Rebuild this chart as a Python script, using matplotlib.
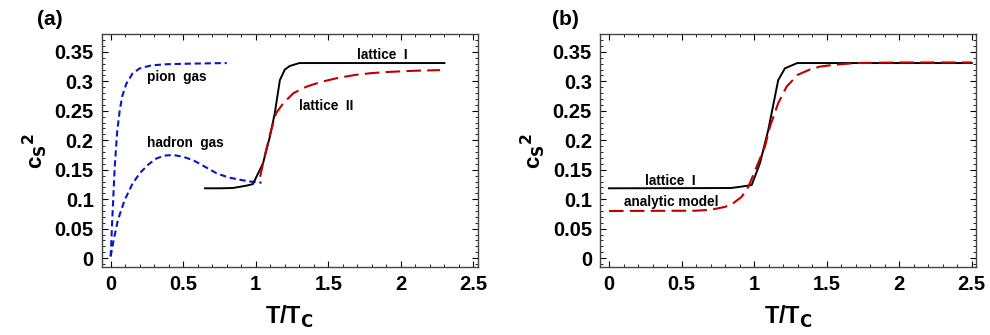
import numpy as np
import matplotlib.pyplot as plt
from matplotlib.ticker import MultipleLocator

plt.rcParams['font.family'] = ['Liberation Sans', 'DejaVu Sans']
plt.rcParams['font.weight'] = 'bold'

# Datos
pion_T = [0.0, 0.01, 0.028, 0.045, 0.062, 0.08, 0.108, 0.15, 0.2, 0.28, 0.384, 0.55, 0.8]
pion_cs2 = [0.003, 0.06, 0.155, 0.215, 0.25, 0.275, 0.296, 0.313, 0.322, 0.327, 0.329, 0.330, 0.331]

hadron_T = [0.0, 0.02, 0.05, 0.097, 0.15, 0.2, 0.26, 0.315, 0.37, 0.43, 0.5, 0.57, 0.65, 0.73, 0.81, 0.89, 0.96, 1.04]
hadron_cs2 = [0.003, 0.03, 0.065, 0.099, 0.126, 0.144, 0.159, 0.169, 0.174, 0.175, 0.172, 0.166, 0.155, 0.144, 0.137, 0.133, 0.130, 0.128]

lat1_T = [0.65, 0.75, 0.84, 0.89, 0.935, 0.98, 1.05, 1.097, 1.131, 1.166, 1.20, 1.234, 1.30, 2.30]
lat1_cs2 = [0.1185, 0.1185, 0.119, 0.121, 0.123, 0.1256, 0.161, 0.206, 0.246, 0.302, 0.320, 0.326, 0.331, 0.331]

lat2_T = [1.03, 1.06, 1.10, 1.14, 1.19, 1.26, 1.35, 1.45, 1.57, 1.69, 1.80, 1.92, 2.10, 2.27]
lat2_cs2 = [0.138, 0.172, 0.212, 0.246, 0.263, 0.280, 0.291, 0.299, 0.306, 0.311, 0.314, 0.316, 0.318, 0.319]

latb_T = [0.0, 0.84, 0.902, 0.983, 1.04, 1.097, 1.166, 1.212, 1.297, 2.50]
latb_cs2 = [0.1185, 0.119, 0.121, 0.124, 0.161, 0.217, 0.302, 0.322, 0.331, 0.331]

anal_T = [0.0, 0.6, 0.7, 0.8, 0.86, 0.914, 0.96, 1.017, 1.074, 1.109, 1.166, 1.224, 1.30, 1.384, 1.453, 1.55, 1.7, 2.0, 2.5]
anal_cs2 = [0.080, 0.0805, 0.082, 0.087, 0.094, 0.104, 0.121, 0.155, 0.189, 0.223, 0.263, 0.291, 0.311, 0.320, 0.325, 0.328, 0.331, 0.332, 0.332]

blue = '#0a14c8'
red = '#c00000'

fig, axes = plt.subplots(1, 2, figsize=(9.9, 3.35), dpi=100)
fig.subplots_adjust(left=0.103, right=0.986, bottom=0.203, top=0.898, wspace=0.326)

for ax in axes:
    ax.set_xlim(-0.06, 2.53)
    ax.set_ylim(-0.015, 0.38)
    ax.xaxis.set_major_locator(MultipleLocator(0.5))
    ax.xaxis.set_minor_locator(MultipleLocator(0.1))
    ax.yaxis.set_major_locator(MultipleLocator(0.05))
    ax.yaxis.set_minor_locator(MultipleLocator(0.01))
    ax.set_xticks([0, 0.5, 1, 1.5, 2, 2.5])
    ax.set_xticklabels(['0', '0.5', '1', '1.5', '2', '2.5'])
    ax.set_yticks([0, 0.05, 0.1, 0.15, 0.2, 0.25, 0.3, 0.35])
    ax.set_yticklabels(['0', '0.05', '0.1', '0.15', '0.2', '0.25', '0.3', '0.35'])
    ax.tick_params(which='both', direction='in', top=True, right=True, labelsize=14.5, pad=6)
    ax.tick_params(which='major', length=4, width=0.8)
    ax.tick_params(which='minor', length=2, width=0.6)
    for s in ax.spines.values():
        s.set_color('#444444')
        s.set_linewidth(1.0)
    ax.set_xlabel('T/T$_\\mathbf{C}$', fontsize=17, fontweight='bold', labelpad=7)
    ax.set_ylabel('c$_\\mathbf{S}$$^\\mathbf{2}$', fontsize=16, fontweight='bold', labelpad=4)

# (a)
ax = axes[0]
ax.plot(pion_T, pion_cs2, color=blue, lw=1.5, dashes=(3, 1.8))
ax.plot(hadron_T, hadron_cs2, color=blue, lw=1.5, dashes=(3, 1.8))
ax.plot(lat1_T, lat1_cs2, color='black', lw=1.4)
ax.plot(lat2_T, lat2_cs2, color=red, lw=1.5, dashes=(7, 3))
ax.text(0.25, 0.307, 'pion  gas', fontsize=9.8, fontweight='bold', va='center')
ax.text(0.25, 0.196, 'hadron  gas', fontsize=9.8, fontweight='bold', va='center')
ax.text(1.70, 0.345, 'lattice  I', fontsize=9.8, fontweight='bold', va='center')
ax.text(1.30, 0.258, 'lattice  II', fontsize=9.8, fontweight='bold', va='center')

# (b)
ax = axes[1]
ax.plot(latb_T, latb_cs2, color='black', lw=1.4)
ax.plot(anal_T, anal_cs2, color=red, lw=1.5, dashes=(7, 3))
ax.text(0.25, 0.131, 'lattice  I', fontsize=9.8, fontweight='bold', va='center')
ax.text(0.10, 0.096, 'analytic model', fontsize=9.8, fontweight='bold', va='center')

fig.text(37 / 990, 1 - 10 / 335, '(a)', fontsize=15, fontweight='bold', va='top')
fig.text(552 / 990, 1 - 10 / 335, '(b)', fontsize=15, fontweight='bold', va='top')

plt.savefig('out.png', dpi=100)
